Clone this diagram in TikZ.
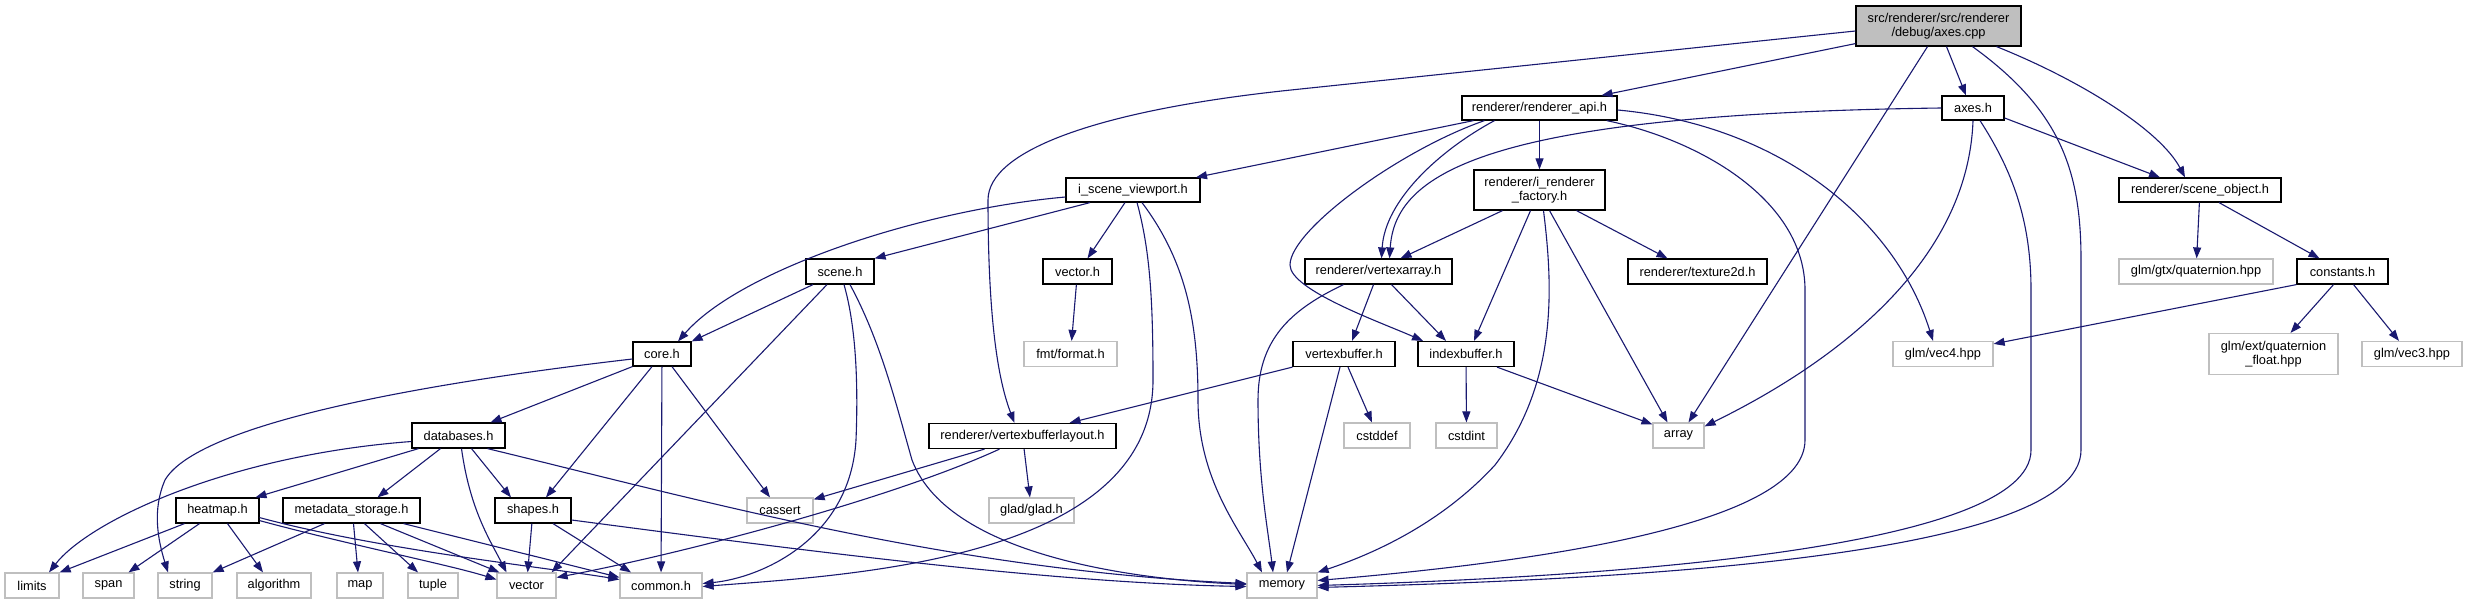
\documentclass[tikz,border=0pt]{standalone}
\usepackage{fontspec}
\setmainfont{Liberation Sans}
\usetikzlibrary{arrows.meta}
\definecolor{edgec}{HTML}{191970}
\definecolor{extc}{HTML}{BFBFBF}
\begin{document}
\begin{tikzpicture}[x=1pt,y=-1pt,
  box/.style={draw=black, line width=1.2pt, fill=white, inner sep=0pt, font=\fontsize{12.8}{14.5}\selectfont, align=center},
  ext/.style={box, draw=extc},
  rootbox/.style={box, fill=extc},
  dep/.style={draw=edgec, line width=1.1pt, -{Triangle[length=11pt,width=8pt]}},
]
\fill[white] (0,0) rectangle (2467,604);
\useasboundingbox (0,0) rectangle (2467,604);

\node[rootbox,minimum width=165pt,minimum height=40pt] (root) at (1938.5,26) {src/renderer/src/renderer\\/debug/axes.cpp};
\node[box,minimum width=155pt,minimum height=24pt] (api) at (1539.5,108) {renderer/renderer\_api.h};
\node[box,minimum width=62pt,minimum height=24pt] (axesh) at (1973,108) {axes.h};
\node[box,minimum width=131pt,minimum height=40pt] (irf) at (1539.5,190) {renderer/i\_renderer\\\_factory.h};
\node[box,minimum width=134pt,minimum height=24pt] (isv) at (1133,190) {i\_scene\_viewport.h};
\node[box,minimum width=162pt,minimum height=24pt] (sobj) at (2200,190) {renderer/scene\_object.h};
\node[box,minimum width=68pt,minimum height=25pt] (scene) at (840,271.5) {scene.h};
\node[box,minimum width=69pt,minimum height=25pt] (vech) at (1077.5,271.5) {vector.h};
\node[box,minimum width=147pt,minimum height=25pt] (va) at (1378.5,271.5) {renderer/vertexarray.h};
\node[box,minimum width=139pt,minimum height=25pt] (tex) at (1697.5,271.5) {renderer/texture2d.h};
\node[ext,minimum width=154pt,minimum height=25pt] (gtxq) at (2196,271.5) {glm/gtx/quaternion.hpp};
\node[box,minimum width=91pt,minimum height=25pt] (const) at (2342.5,271.5) {constants.h};
\node[box,minimum width=58pt,minimum height=24pt] (core) at (662,354) {core.h};
\node[ext,minimum width=93pt,minimum height=25pt] (fmt) at (1070.5,354) {fmt/format.h};
\node[box,minimum width=102pt,minimum height=25pt] (vb) at (1344,354) {vertexbuffer.h};
\node[box,minimum width=96pt,minimum height=25pt] (ib) at (1466,354) {indexbuffer.h};
\node[ext,minimum width=100pt,minimum height=25pt] (vecf) at (1943,354) {glm/vec4.hpp};
\node[ext,minimum width=129pt,minimum height=41pt] (extq) at (2273.5,354) {glm/ext/quaternion\\\_float.hpp};
\node[ext,minimum width=100pt,minimum height=25pt] (vect) at (2412,354) {glm/vec3.hpp};
\node[box,minimum width=93pt,minimum height=25pt] (db) at (458.5,435.5) {databases.h};
\node[box,minimum width=187pt,minimum height=25pt] (vbl) at (1022.5,436) {renderer/vertexbufferlayout.h};
\node[ext,minimum width=66pt,minimum height=25pt] (cstddef) at (1377,435.5) {cstddef};
\node[ext,minimum width=61pt,minimum height=25pt] (cstdint) at (1466.5,435.5) {cstdint};
\node[ext,minimum width=51pt,minimum height=25pt] (array) at (1678.5,435.5) {array};
\node[box,minimum width=83pt,minimum height=25pt] (heat) at (217.5,510.5) {heatmap.h};
\node[box,minimum width=137pt,minimum height=25pt] (meta) at (351.5,510.5) {metadata\_storage.h};
\node[box,minimum width=76pt,minimum height=25pt] (shapes) at (533,510.5) {shapes.h};
\node[ext,minimum width=66pt,minimum height=25pt] (cassert) at (780,510.5) {cassert};
\node[ext,minimum width=85pt,minimum height=25pt] (glad) at (1031.5,510.5) {glad/glad.h};
\node[ext,minimum width=54pt,minimum height=25pt] (limits) at (32,585.5) {limits};
\node[ext,minimum width=51pt,minimum height=25pt] (span) at (108.5,585.5) {span};
\node[ext,minimum width=54pt,minimum height=25pt] (string) at (185,585.5) {string};
\node[ext,minimum width=74pt,minimum height=25pt] (algorithm) at (274,585.5) {algorithm};
\node[ext,minimum width=46pt,minimum height=25pt] (map) at (360,585.5) {map};
\node[ext,minimum width=50pt,minimum height=25pt] (tuple) at (433,585.5) {tuple};
\node[ext,minimum width=59pt,minimum height=25pt] (vector) at (526.5,585.5) {vector};
\node[ext,minimum width=82pt,minimum height=25pt] (common) at (661,585.5) {common.h};
\node[ext,minimum width=70pt,minimum height=25pt] (memory) at (1282,585.5) {memory};

% root
\draw[dep] ([yshift=-5pt]root.west) -- (1291,90) .. controls (1100,110) and (988,150) .. (988,200) .. controls (988,330) and (1000,385) .. ([xshift=-8pt]vbl.north);
\draw[dep] ([yshift=3pt]root.south west) -- ([xshift=62pt]api.north);
\draw[dep] ([xshift=8pt]root.south) -- ([xshift=-7pt]axesh.north);
\draw[dep] ([xshift=-11pt]root.south) -- ([xshift=10pt]array.north);
\draw[dep] ([xshift=34pt]root.south) .. controls (2060,110) and (2081,170) .. (2081,260) -- (2081,450) .. controls (2081,560) and (1600,580) .. ([yshift=-2pt]memory.east);
\draw[dep] ([xshift=58pt]root.south) .. controls (2080,80) and (2160,130) .. ([xshift=-15pt]sobj.north);
% api
\draw[dep] ([xshift=-66pt]api.south) -- ([xshift=63pt]isv.north);
\draw[dep] ([xshift=-45pt]api.south) .. controls (1440,150) and (1385,200) .. ([xshift=3pt]va.north);
\draw[dep] (api) -- (irf);
\draw[dep] ([xshift=-55pt]api.south) .. controls (1400,150) and (1290,230) .. (1290,265) .. controls (1290,290) and (1380,322) .. ([xshift=-43pt]ib.north);
\draw[dep] ([xshift=-11pt]api.south east) .. controls (1700,140) and (1805,200) .. (1805,290) -- (1805,440) .. controls (1805,530) and (1500,565) .. ([yshift=5pt]memory.east);
\draw[dep] ([yshift=-2pt]api.east) .. controls (1780,125) and (1895,220) .. ([xshift=-10pt]vecf.north);
% axes.h
\draw[dep] (axesh.west) .. controls (1480,114) and (1395,175) .. ([xshift=11pt]va.north);
\draw[dep] ([yshift=-10pt]axesh.east) -- ([xshift=-40pt]sobj.north);
\draw[dep] (axesh.south) .. controls (1968,260) and (1840,360) .. ([yshift=-4pt]array.north east);
\draw[dep] ([xshift=7pt]axesh.south) .. controls (2012,170) and (2031,220) .. (2031,290) -- (2031,450) .. controls (2031,550) and (1600,577) .. (memory.east);
% i_renderer_factory
\draw[dep] ([xshift=-37pt]irf.south) -- ([xshift=22pt]va.north);
\draw[dep] ([xshift=-9pt]irf.south) -- ([xshift=8pt]ib.north);
\draw[dep] ([xshift=37pt]irf.south) -- ([xshift=-30pt]tex.north);
\draw[dep] ([xshift=4pt]irf.south) .. controls (1552,280) and (1560,380) .. (1495,465) .. controls (1440,525) and (1370,555) .. (memory.north east);
\draw[dep] ([xshift=10pt]irf.south) -- ([xshift=-11pt]array.north);
% i_scene_viewport
\draw[dep] ([yshift=-7pt]isv.west) .. controls (920,210) and (740,270) .. ([xshift=16pt]core.north);
\draw[dep] ([xshift=-43pt]isv.south) -- (scene.north east);
\draw[dep] ([xshift=-8pt]isv.south) -- ([xshift=10pt]vech.north);
\draw[dep] ([xshift=4pt]isv.south) .. controls (1150,250) and (1153,300) .. (1153,380) .. controls (1153,560) and (850,575) .. ([yshift=-1pt]common.east);
\draw[dep] ([xshift=9pt]isv.south) .. controls (1185,260) and (1198,320) .. (1198,400) .. controls (1198,480) and (1240,530) .. ([xshift=-20pt]memory.north);
% scene
\draw[dep] ([xshift=-27pt]scene.south) -- (core.north east);
\draw[dep] ([xshift=-13pt]scene.south) -- ([xshift=-5pt]vector.north east);
\draw[dep] ([xshift=4pt]scene.south) .. controls (857,330) and (858,390) .. (856,440) .. controls (850,540) and (760,578) .. ([yshift=2pt]common.east);
\draw[dep] ([xshift=10pt]scene.south) .. controls (880,340) and (895,400) .. (912,460) .. controls (950,560) and (1150,580) .. ([yshift=1pt]memory.west);
% vector.h
\draw[dep] (vech) -- (fmt);
% core
\draw[dep] (core.south west) -- ([xshift=32pt]db.north);
\draw[dep] ([xshift=-10pt]core.south) -- ([xshift=13pt]shapes.north);
\draw[dep] (core) -- (common);
\draw[dep] ([xshift=10pt]core.south) -- ([xshift=-10pt]cassert.north);
\draw[dep] ([yshift=-5pt]core.west) .. controls (450,380) and (200,420) .. (165,480) .. controls (152,510) and (158,540) .. ([xshift=-17pt]string.north);
% databases
\draw[dep] ([yshift=-6pt]db.west) .. controls (230,455) and (90,520) .. ([xshift=17pt]limits.north);
\draw[dep] ([xshift=-40pt]db.south) -- ([xshift=38pt]heat.north);
\draw[dep] ([xshift=-18pt]db.south) -- ([xshift=26pt]meta.north);
\draw[dep] ([xshift=3pt]db.south) .. controls (470,510) and (490,540) .. ([xshift=-20pt]vector.north);
\draw[dep] ([xshift=13pt]db.south) -- ([xshift=-22pt]shapes.north);
\draw[dep] ([xshift=29pt]db.south) .. controls (700,500) and (950,570) .. ([yshift=2pt]memory.west);
% heatmap
\draw[dep] ([xshift=-33pt]heat.south) -- (limits.north east);
\draw[dep] ([xshift=-18pt]heat.south) -- ([xshift=20pt]span.north);
\draw[dep] ([xshift=10pt]heat.south) -- ([xshift=-11pt]algorithm.north);
\draw[dep] ([yshift=3pt]heat.south east) .. controls (350,545) and (450,565) .. ([yshift=6pt]vector.west);
\draw[dep] ([yshift=6pt]heat.south east) .. controls (380,550) and (550,568) .. ([yshift=6pt]common.west);
% metadata
\draw[dep] ([xshift=-27pt]meta.south) -- (string.north east);
\draw[dep] ([xshift=2pt]meta.south) -- ([xshift=-2pt]map.north);
\draw[dep] ([xshift=13pt]meta.south) -- ([xshift=-15pt]tuple.north);
\draw[dep] ([xshift=29pt]meta.south) -- ([xshift=3pt]vector.north west);
\draw[dep] ([xshift=52pt]meta.south) -- ([yshift=-5pt]common.north west);
% shapes
\draw[dep] (shapes) -- (vector);
\draw[dep] ([xshift=20pt]shapes.south) -- ([xshift=-30pt]common.north);
\draw[dep] ([yshift=-9.5pt]shapes.east) .. controls (800,550) and (1050,583) .. ([yshift=-1pt]memory.west);
% vertexbufferlayout
\draw[dep] ([xshift=-38pt]vbl.south) -- ([yshift=-2pt]cassert.north east);
\draw[dep] (vbl) -- (glad);
\draw[dep] ([xshift=-23pt]vbl.south) .. controls (900,495) and (700,550) .. ([yshift=8pt]vector.east);
% vertexarray
\draw[dep] ([xshift=-5pt]va.south) -- ([xshift=8pt]vb.north);
\draw[dep] ([xshift=13pt]va.south) -- ([xshift=-20pt]ib.north);
\draw[dep] ([xshift=-35pt]va.south) .. controls (1290,310) and (1258,340) .. (1258,400) .. controls (1258,480) and (1268,530) .. ([xshift=-9pt]memory.north);
% vertexbuffer
\draw[dep] (vb.south west) -- ([xshift=47pt]vbl.north);
\draw[dep] ([xshift=4pt]vb.south) -- ([xshift=-5pt]cstddef.north);
\draw[dep] ([xshift=-4pt]vb.south) -- ([xshift=5pt]memory.north);
% indexbuffer
\draw[dep] (ib) -- (cstdint);
\draw[dep] ([xshift=31pt]ib.south) -- ([yshift=-2pt]array.north west);
% scene_object
\draw[dep] (sobj) -- (gtxq);
\draw[dep] ([xshift=19pt]sobj.south) -- ([xshift=-23pt]const.north);
% constants
\draw[dep] (const.south west) -- ([yshift=-3pt]vecf.north east);
\draw[dep] ([xshift=-9pt]const.south) -- ([xshift=17pt]extq.north);
\draw[dep] ([xshift=11pt]const.south) -- ([xshift=-13pt]vect.north);
\end{tikzpicture}
\end{document}
